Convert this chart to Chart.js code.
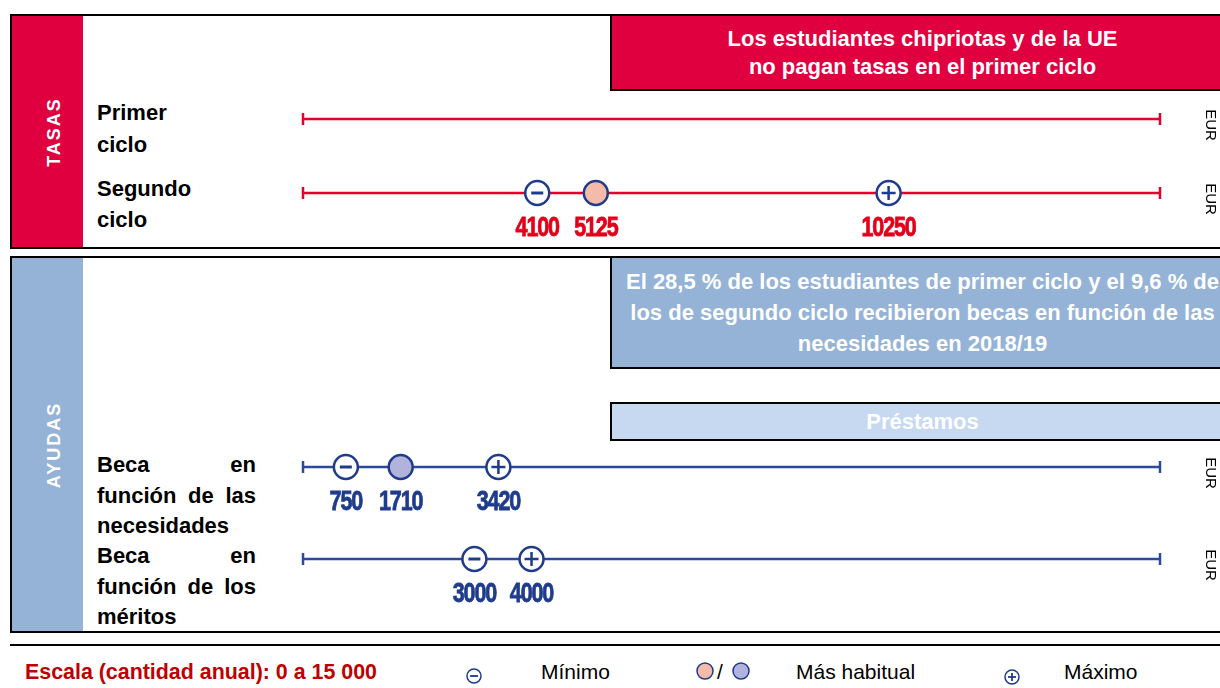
<!DOCTYPE html>
<html lang="es">
<head>
<meta charset="UTF-8">
<title>Chipre | Tasas y ayudas</title>
<script src="https://cdn.jsdelivr.net/npm/chart.js"></script>
<style>
    body { margin: 0; width: 1220px; height: 688px; overflow: hidden; position: relative; background: #fff; font-family: "Liberation Sans", Arial, sans-serif; }
    .panel { position: absolute; left: 10px; width: 1240px; border: 2px solid #000; box-sizing: border-box; }
    #tasas { top: 14px; height: 235px; }
    #ayudas { top: 256px; height: 377px; }
    .strip { position: absolute; left: 0; top: 0; bottom: 0; width: 71px; }
    .strip span { position: absolute; left: 42px; top: 50%; transform: translate(-50%, -50%) rotate(-90deg); color: #fff; font-weight: bold; font-size: 18px; letter-spacing: 2px; white-space: nowrap; }
    .box { position: absolute; left: 610px; width: 625px; border: 2px solid #000; box-sizing: border-box; display: flex; align-items: center; justify-content: center; text-align: center; color: #fff; font-weight: bold; font-size: 22px; }
    .rowlab { position: absolute; left: 97px; width: 159px; font-weight: bold; font-size: 22px; text-align: justify; color: #000; }
    canvas { position: absolute; left: 0; }
    .rule { position: absolute; left: 10px; top: 644px; width: 1230px; height: 2px; background: #000; }
    .leg { position: absolute; top: 660px; line-height: 24px; font-size: 21px; color: #000; white-space: nowrap; }
    svg { position: absolute; }
</style>
</head>
<body>
    <div class="panel" id="tasas">
        <div class="strip" style="background:#E1003F"><span>TASAS</span></div>
    </div>
    <div class="box" style="top:14px;height:77px;background:#E1003F;line-height:28px">Los estudiantes chipriotas y de la UE<br>no pagan tasas en el primer ciclo</div>
    <div class="rowlab" style="top:97px;line-height:32px">Primer<br>ciclo</div>
    <div class="rowlab" style="top:173px;line-height:31px">Segundo<br>ciclo</div>

    <div class="panel" id="ayudas">
        <div class="strip" style="background:#95B3D7"><span>AYUDAS</span></div>
    </div>
    <div class="box" style="top:256px;height:113px;background:#95B3D7;line-height:31px">El 28,5 % de los estudiantes de primer ciclo y el 9,6 % de<br>los de segundo ciclo recibieron becas en función de las<br>necesidades en 2018/19</div>
    <div class="box" style="top:402px;height:39px;background:#C6D9F1">Préstamos</div>
    <div class="rowlab" style="top:450px;line-height:30.5px">Beca en función de las necesidades</div>
    <div class="rowlab" style="top:541px;line-height:30.5px">Beca en función de los méritos</div>

    <canvas id="chartTasas" width="1220" height="188" style="top:60px"></canvas>
    <canvas id="chartAyudas" width="1220" height="232" style="top:400px"></canvas>

    <div class="rule"></div>
    <div class="leg" style="left:25px;color:#C00000;font-weight:bold;font-size:21.4px">Escala (cantidad anual): 0 a 15 000</div>
    <svg width="20" height="20" style="left:464px;top:666px"><circle cx="10" cy="10" r="7" fill="#fff" stroke="#1F3C8C" stroke-width="1.5"/><line x1="6" y1="10" x2="14" y2="10" stroke="#1F3C8C" stroke-width="1.8"/></svg>
    <div class="leg" style="left:541px">Mínimo</div>
    <svg width="20" height="20" style="left:695px;top:661px"><circle cx="10" cy="10" r="8" fill="#F4BBA8" stroke="#1F3C8C" stroke-width="1.5"/></svg>
    <div class="leg" style="left:717px">/</div>
    <svg width="20" height="20" style="left:731px;top:661px"><circle cx="10" cy="10" r="8" fill="#B1B3DD" stroke="#1F3C8C" stroke-width="1.5"/></svg>
    <div class="leg" style="left:796px">Más habitual</div>
    <svg width="20" height="20" style="left:1002px;top:667px"><circle cx="10" cy="10" r="7" fill="#fff" stroke="#1F3C8C" stroke-width="1.5"/><line x1="6" y1="10" x2="14" y2="10" stroke="#1F3C8C" stroke-width="1.8"/><line x1="10" y1="6" x2="10" y2="14" stroke="#1F3C8C" stroke-width="1.8"/></svg>
    <div class="leg" style="left:1064px">Máximo</div>

<script>
    // escala
    const scaleMin = 0;
    const scaleMax = 15000;
    const unitLabel = 'EUR';

    // tasas
    const tasasRows = ['Primer ciclo', 'Segundo ciclo'];
    const tasasMin = [null, 4100];
    const tasasHabitual = [null, 5125];
    const tasasMax = [null, 10250];

    // ayudas
    const ayudasRows = ['Beca en función de las necesidades', 'Beca en función de los méritos'];
    const ayudasMin = [750, 3000];
    const ayudasHabitual = [1710, null];
    const ayudasMax = [3420, 4000];

    const navy = '#1F3C8C';

    function toPoints(rows, vals) {
        const out = [];
        rows.forEach((r, i) => {
            if (vals[i] !== null) out.push({ x: vals[i], y: r });
        });
        return out;
    }

    const valueLabels = {
        id: 'valueLabels',
        afterDatasetsDraw(chart, args, opts) {
            const ctx = chart.ctx;
            const ys = chart.scales.y;
            ctx.save();
            chart.data.datasets.forEach((ds, i) => {
                if (!ds.showValue) return;
                const meta = chart.getDatasetMeta(i);
                meta.data.forEach((el, j) => {
                    ctx.save();
                    ctx.translate(el.x, el.y + 35);
                    ctx.scale(0.77, 1);
                    ctx.font = 'bold 28px "Liberation Sans", Arial, sans-serif';
                    ctx.letterSpacing = '-1.5px';
                    ctx.fillStyle = opts.color;
                    ctx.strokeStyle = opts.color;
                    ctx.lineWidth = 0.8;
                    ctx.textAlign = 'center';
                    ctx.textBaseline = 'middle';
                    ctx.fillText(String(ds.data[j].x), 0, 0);
                    ctx.strokeText(String(ds.data[j].x), 0, 0);
                    ctx.restore();
                });
            });
            // unidad a la derecha de cada escala
            ys.getLabels().forEach((lab, i) => {
                ctx.save();
                ctx.translate(chart.chartArea.right + 50, ys.getPixelForValue(i) + 6);
                ctx.rotate(Math.PI / 2);
                ctx.font = '15px "Liberation Sans", Arial, sans-serif';
                ctx.fillStyle = '#000';
                ctx.textAlign = 'center';
                ctx.textBaseline = 'middle';
                ctx.fillText(unitLabel, 0, 0);
                ctx.restore();
            });
            ctx.restore();
        }
    };

    function makePanel(id, rows, mins, habituals, maxs, lineColor, habitualFill, labelColor, padTop, padBottom) {
        const datasets = [];
        // signos
        datasets.push({ data: toPoints(rows, mins), pointStyle: 'line', pointRadius: 6, pointBorderWidth: 3, pointBorderColor: navy, order: 0 });
        datasets.push({ data: toPoints(rows, maxs), pointStyle: 'cross', pointRadius: 7, pointBorderWidth: 2.5, pointBorderColor: navy, order: 0 });
        // circulos
        datasets.push({ data: toPoints(rows, mins), showValue: true, pointRadius: 12, pointBorderWidth: 2.5, pointBorderColor: navy, pointBackgroundColor: '#fff', order: 1 });
        datasets.push({ data: toPoints(rows, habituals), showValue: true, pointRadius: 12, pointBorderWidth: 2.5, pointBorderColor: navy, pointBackgroundColor: habitualFill, order: 1 });
        datasets.push({ data: toPoints(rows, maxs), showValue: true, pointRadius: 12, pointBorderWidth: 2.5, pointBorderColor: navy, pointBackgroundColor: '#fff', order: 1 });
        // escala 0 - 15 000
        rows.forEach(r => {
            datasets.push({
                type: 'line',
                data: [{ x: scaleMin, y: r }, { x: scaleMax, y: r }],
                borderColor: lineColor,
                borderWidth: 2.5,
                pointStyle: 'line',
                pointRotation: 90,
                pointRadius: 6,
                pointBorderWidth: 2.5,
                pointBorderColor: lineColor,
                order: 2
            });
        });
        datasets.forEach(d => { d.clip = false; });

        new Chart(document.getElementById(id), {
            type: 'scatter',
            data: { datasets: datasets },
            options: {
                responsive: false,
                animation: false,
                events: [],
                layout: { padding: { left: 303, right: 60, top: padTop, bottom: padBottom } },
                scales: {
                    x: { type: 'linear', min: scaleMin, max: scaleMax, display: false },
                    y: { type: 'category', labels: rows, offset: true, display: false }
                },
                plugins: {
                    legend: { display: false },
                    tooltip: { enabled: false },
                    valueLabels: { color: labelColor }
                }
            },
            plugins: [valueLabels]
        });
    }

    makePanel('chartTasas', tasasRows, tasasMin, tasasHabitual, tasasMax, '#E4002B', '#F4BBA8', '#E2001A', 22, 18);
    makePanel('chartAyudas', ayudasRows, ayudasMin, ayudasHabitual, ayudasMax, '#2B4A9B', '#B1B3DD', '#1F3C8C', 21, 27);
</script>
</body>
</html>
